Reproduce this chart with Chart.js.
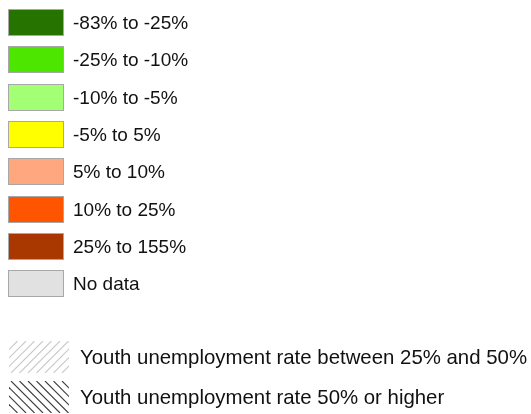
<!DOCTYPE html>
<html>
<head>
<meta charset="utf-8">
<script src="https://cdn.jsdelivr.net/npm/chart.js@4/dist/chart.umd.min.js"></script>
<style>
  html, body { margin: 0; padding: 0; background: #fff; }
  #wrap { width: 531px; height: 414px; }
</style>
</head>
<body>
<div id="wrap"><canvas id="key" width="531" height="414"></canvas></div>
<script>
// class breaks of the map (change in rate) and their fill colours
const classLabels = ['-83% to -25%', '-25% to -10%', '-10% to -5%', '-5% to 5%',
  '5% to 10%', '10% to 25%', '25% to 155%', 'No data'];
const classColors = ['#267300', '#4ce600', '#a3ff73', '#ffff00',
  '#ffa77f', '#ff5500', '#a83800', '#e1e1e1'];

// hatch overlays
const hatchLabels = ['Youth unemployment rate between 25% and 50%',
  'Youth unemployment rate 50% or higher'];
const hatchColors = ['#c9c9c9', '#3c3c3c'];
const hatchDirs = ['/', '\\'];

const FONT = '"Liberation Sans", Arial, sans-serif';

// draws the legend boxes + labels straight onto the chart canvas
const keyPlugin = {
  id: 'mapKey',
  afterDraw(chart) {
    const ctx = chart.ctx;
    ctx.save();

    // colour classes
    chart.data.labels.forEach((lab, i) => {
      const y0 = Math.round(9 + i * 37.3);
      ctx.fillStyle = classColors[i];
      ctx.fillRect(8, y0, 56, 27);
      ctx.strokeStyle = '#a8a8a8';
      ctx.lineWidth = 1;
      ctx.strokeRect(8.5, y0 + 0.5, 55, 26);

      ctx.fillStyle = '#111';
      ctx.font = '19px ' + FONT;
      ctx.textBaseline = 'middle';
      ctx.textAlign = 'left';
      ctx.fillText(lab, 73, y0 + 14.5);
    });

    // hatched ones
    const hatchTops = [341, 381];
    hatchLabels.forEach((lab, i) => {
      const x0 = 9, w = 60, h = 32;
      const top = hatchTops[i];
      ctx.save();
      ctx.beginPath();
      ctx.rect(x0, top, w, h);
      ctx.clip();
      ctx.strokeStyle = hatchColors[i];
      ctx.lineWidth = 1.1;
      for (let x = x0 - h; x < x0 + w + h; x += 8.5) {
        ctx.beginPath();
        if (hatchDirs[i] === '/') {
          ctx.moveTo(x, top + h);
          ctx.lineTo(x + h, top);
        } else {
          ctx.moveTo(x, top);
          ctx.lineTo(x + h, top + h);
        }
        ctx.stroke();
      }
      ctx.restore();

      ctx.fillStyle = '#111';
      ctx.font = '20.4px ' + FONT;
      ctx.textBaseline = 'middle';
      ctx.fillText(lab, 80, top + 17.5);
    });

    ctx.restore();
  }
};

new Chart(document.getElementById('key'), {
  type: 'bar',
  data: {
    labels: classLabels,
    datasets: []
  },
  options: {
    responsive: false,
    animation: false,
    layout: { padding: 0 },
    plugins: {
      legend: { display: false },
      tooltip: { enabled: false },
      title: { display: false }
    },
    scales: {
      x: { display: false },
      y: { display: false }
    }
  },
  plugins: [keyPlugin]
});
</script>
</body>
</html>
